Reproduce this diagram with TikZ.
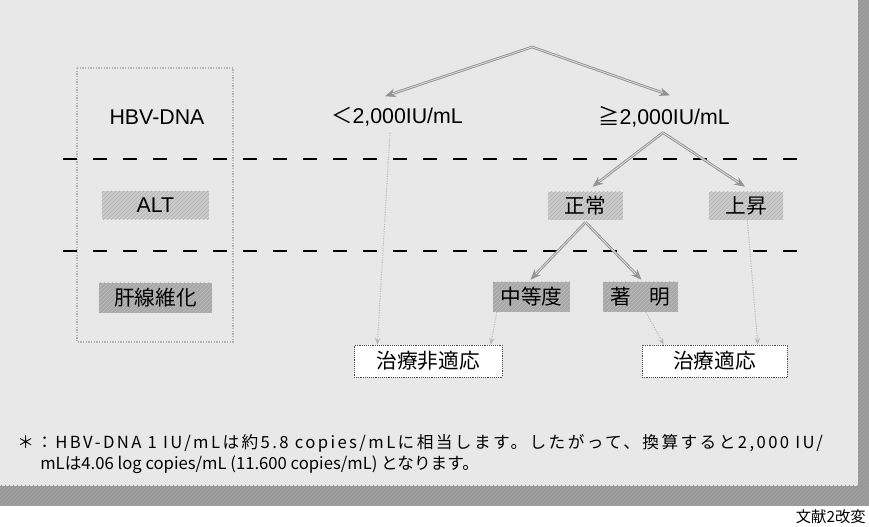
\documentclass[tikz,border=0pt]{standalone}
\usepackage{fontspec}
\setmainfont{Noto Sans CJK JP}
\newfontfamily\latf{Liberation Sans}
\newfontfamily\notewide{Noto Sans CJK JP}[LetterSpace=14.5]
\usetikzlibrary{arrows.meta,patterns}
\definecolor{bg}{gray}{0.91}
\definecolor{lightbox}{gray}{0.80}
\definecolor{darkbox}{gray}{0.66}
\definecolor{arrowc}{gray}{0.58}
\definecolor{bandc}{gray}{0.62}
\tikzset{
 lbl/.style={font=\fontsize{15.5}{18}\selectfont, inner sep=0pt},
 latlbl/.style={font=\fontsize{16}{18}\selectfont\latf, inner sep=0pt},
 lightbx/.style={lbl, fill=lightbox, minimum height=21pt,
   postaction={pattern=north east lines, pattern color=gray!62}},
 darkbx/.style={lbl, fill=darkbox, minimum height=22.5pt,
   postaction={pattern=north east lines, pattern color=gray!52}},
 outbx/.style={lbl, fill=white, draw=black!70, densely dotted, minimum height=24pt},
 flow/.style={draw=arrowc, line width=0.7pt, double=gray!25, double distance=0.6pt,
   -{Stealth[length=8pt,width=6.5pt]}},
 dotflow/.style={draw=gray!55, densely dotted, line width=0.8pt, -{Stealth[length=5pt,width=4pt]}},
 sepline/.style={draw=black, line width=2.2pt, dash pattern=on 10.5pt off 12pt},
 note/.style={font=\fontsize{12.5}{15}\selectfont, inner sep=0pt, anchor=west},
 hatch/.style={fill=bandc, postaction={pattern=north east lines, pattern color=gray!85}},
}
\begin{document}
\begin{tikzpicture}[x=0.75pt,y=-0.75pt]
\useasboundingbox (0,0) rectangle (869,527);
\fill[white] (0,0) rectangle (869,527);
\fill[bg] (0,0) rectangle (858,486);
\path[hatch] (858,0) rectangle (869,506);
\path[hatch] (0,486) rectangle (869,506);
% left header box
\draw[gray!60, densely dotted, line width=1pt] (77,68) rectangle (233,342);
% separators
\draw[sepline] (63,159) -- (803,159);
\draw[sepline] (63,251) -- (803,251);
% nodes
\node[latlbl] (hbv) at (157,117) {HBV-DNA};
\node[lightbx, minimum width=80pt, font=\fontsize{16}{18}\selectfont\latf] (alt) at (155.5,205.5) {ALT};
\node[darkbx, minimum width=85pt] (fib) at (155.5,298) {肝線維化};
\node[latlbl] (lt) at (397,117) {{\rmfamily ＜}2,000IU/mL};
\node[latlbl] (ge) at (664,117) {{\rmfamily ≧}2,000IU/mL};
\coordinate (apex) at (532,47);
\node[lightbx, minimum width=56pt] (norm) at (585.5,206) {正常};
\node[lightbx, minimum width=56pt] (up) at (746,206) {上昇};
\node[darkbx, minimum width=58pt] (mod) at (531.5,297) {中等度};
\node[darkbx, minimum width=56pt] (mark) at (640.5,297) {著\hspace{0.9em}明};
\node[outbx, minimum width=111pt] (non) at (428,361) {治療非適応};
\node[outbx, minimum width=109pt] (tx) at (714.5,361) {治療適応};
% arrows
\draw[flow] (apex) -- ([shift={(-12,-11)}]lt.north);
\draw[flow] (apex) -- ([shift={(6,-11)}]ge.north);
\draw[flow] ([shift={(-1,5)}]ge.south) -- ([shift={(7,-5)}]norm.north);
\draw[flow] ([shift={(-1,5)}]ge.south) -- ([shift={(-1,-5)}]up.north);
\draw[flow] ([shift={(0,2)}]norm.south) -- ([shift={(-1,-2)}]mod.north);
\draw[flow] ([shift={(0,2)}]norm.south) -- ([shift={(1,-2)}]mark.north);
% dotted connectors
\draw[dotflow] ([shift={(-7,6)}]lt.south) -- ([xshift=-38]non.north);
\draw[dotflow] ([xshift=-26]mod.south) -- ([xshift=47]non.north);
\draw[dotflow] ([xshift=4]mark.south) -- ([xshift=-38]tx.north);
\draw[dotflow] ([xshift=1]up.south) -- ([xshift=32.5]tx.north);
% footnote
\node[note, font=\fontsize{12.5}{15}\selectfont\notewide] (n1) at (17,443) {＊：HBV-DNA 1 IU/mLは約5.8 copies/mLに相当します。したがって、換算すると2,000 IU/};
\node[note] (n2) at (40,465) {mLは4.06 log copies/mL (11.600 copies/mL) となります。};
\node[font=\fontsize{11.5}{13}\selectfont, inner sep=0pt, anchor=east] (src) at (866,517) {文献2改変};
\end{tikzpicture}
\end{document}
